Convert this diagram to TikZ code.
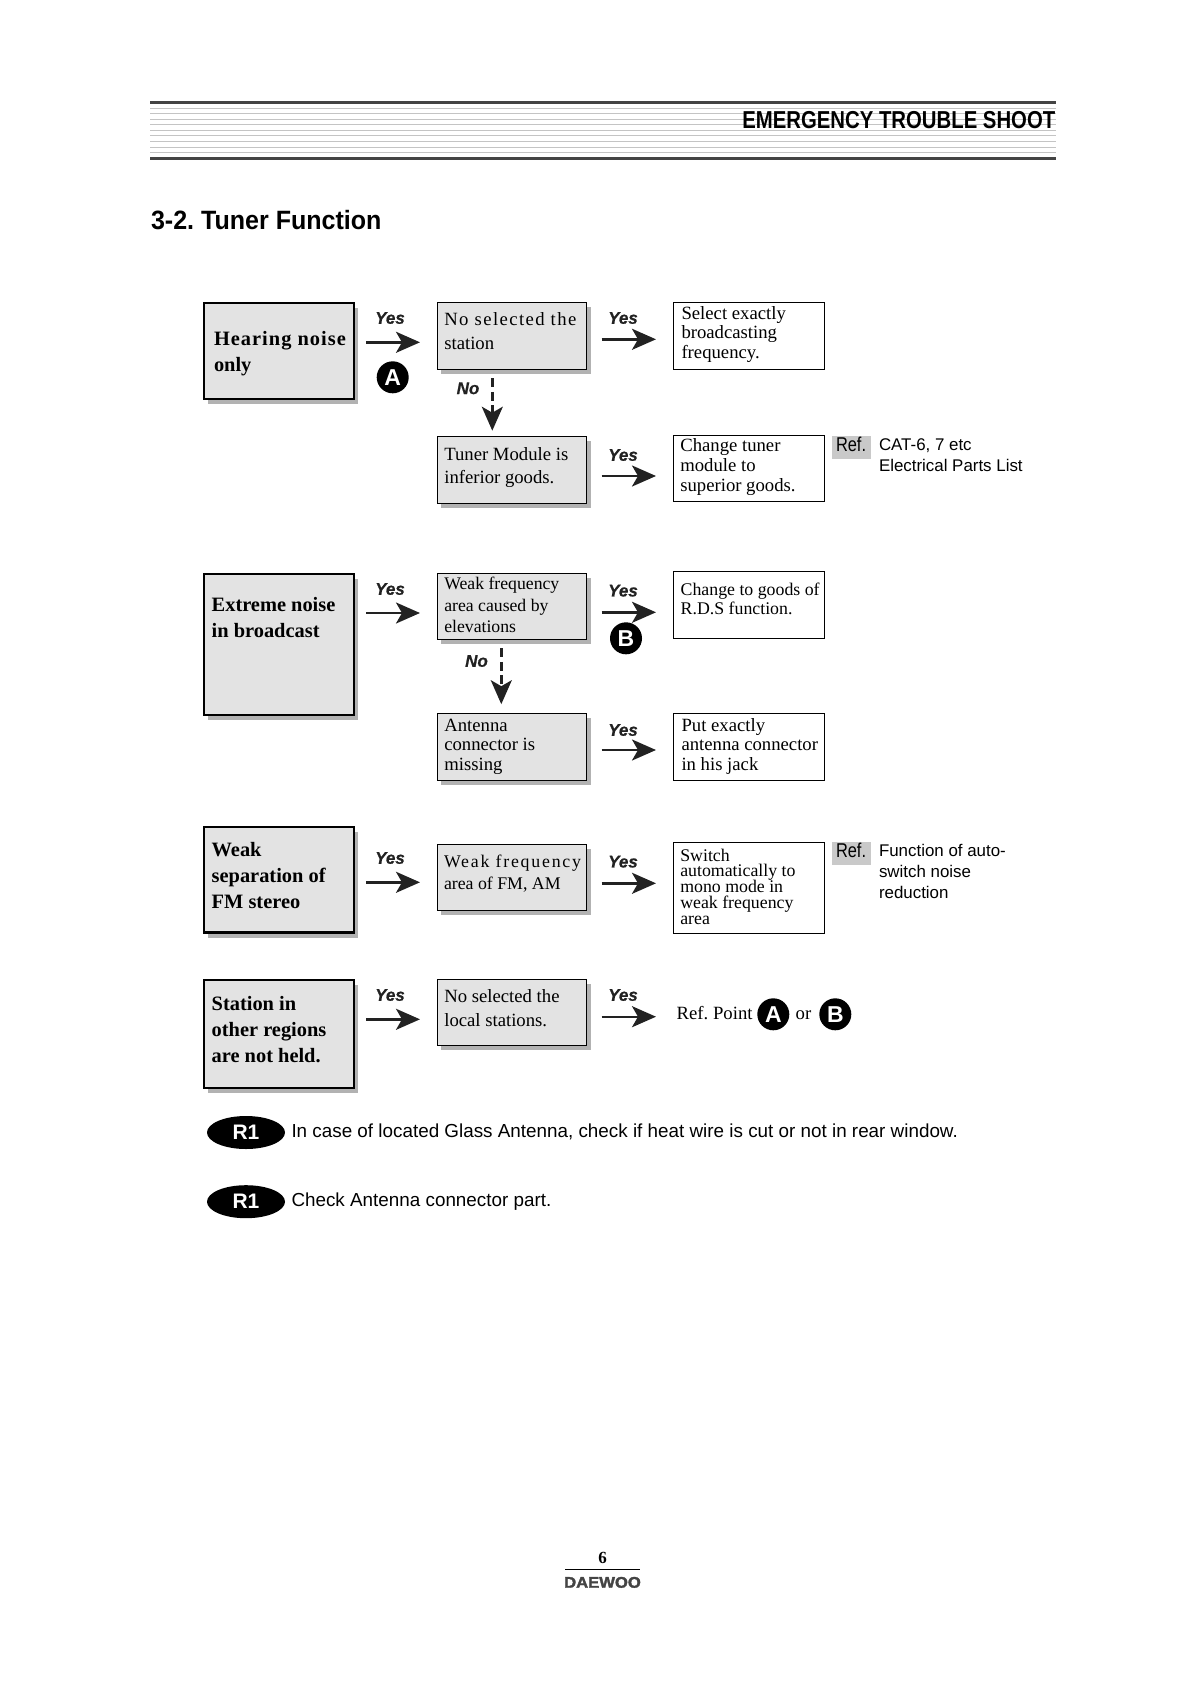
\documentclass[tikz,border=0pt]{standalone}
\usepackage{fontspec}
\setmainfont{Liberation Serif}
\setsansfont{Liberation Sans}
\usetikzlibrary{arrows.meta,shadows,shapes.geometric}
\AtBeginDocument{\frenchspacing}
\definecolor{boxfill}{HTML}{E3E3E3}
\definecolor{shade}{HTML}{B2B2B2}
\definecolor{inkdark}{HTML}{222222}
\definecolor{barcol}{HTML}{444444}
\definecolor{ruleline}{HTML}{C4C4C4}
\newcommand\tf[2]{\fontsize{#1}{#2}\selectfont}
\newcommand\ls[2]{{\addfontfeature{LetterSpace=#1}#2}}
\newcommand\bxnode[9]{\node[#1,minimum width=#5pt,minimum height=#6pt] (#2) at (#3,#4) {\begin{minipage}[t][#6pt][t]{#5pt}\raggedright\lineskiplimit=-100pt \leftskip=#7pt \rightskip=-40pt plus 1fil \rule{0pt}{#8pt}#9\end{minipage}};}
\newcommand\harrow[4]{\coordinate (ylev) at (0,#4); \draw[#1] (#2.east |- ylev) -- (#3.west |- ylev);}
\newcommand\varrow[4]{\coordinate (xlev) at (#4,0); \draw[#1] (#2.south -| xlev) -- (#3.north -| xlev);}
\tikzset{
  x=1pt,y=-1pt,
  basenode/.style={anchor=north west,inner sep=0pt,outer sep=0pt},
  problem/.style={basenode,draw=black,line width=2.4pt,fill=boxfill,drop shadow={shadow xshift=4pt,shadow yshift=-5pt,fill=shade,opacity=1}},
  cause/.style={basenode,draw=black,line width=1pt,fill=boxfill,drop shadow={shadow xshift=4pt,shadow yshift=-4.5pt,fill=shade,opacity=1}},
  remedy/.style={basenode,draw=black,line width=1pt,fill=white},
  refbox/.style={basenode,fill=shade!70!white},
  plaintext/.style={basenode},
  baselabel/.style={anchor=base west,inner sep=0pt,outer sep=0pt},
  yeslabel/.style={inner sep=0pt,font=\sffamily\bfseries\itshape\tf{17}{18}\addfontfeature{FakeBold=0.6},text=inkdark},
  badge/.style={circle,fill=black,text=white,minimum size=32pt,inner sep=0pt,font=\sffamily\bfseries\tf{23}{24}},
  pill/.style={ellipse,fill=black,text=white,minimum width=78pt,minimum height=33pt,inner sep=0pt,font=\sffamily\bfseries\tf{21}{22}},
  flow/.style={inkdark,line width=2.4pt,-{Stealth[length=24pt,width=21pt,inset=6pt]}},
  flowA/.style={flow,shorten <=12pt,shorten >=17pt},
  flowB/.style={flow,shorten <=15pt,shorten >=17.5pt},
  noflow/.style={flow,dash pattern=on 9pt off 4.5pt}
}
\begin{document}
\begin{tikzpicture}
\useasboundingbox (0,0) rectangle (1191,1684);
% header
\foreach \yy in {108,113.7,119.3,124.7,130.3,135.3,141.3,147.3,152.3}
  \draw[ruleline,line width=1pt] (150,\yy) -- (1056,\yy);
\draw[barcol,line width=3pt] (150,102.5) -- (1056,102.5);
\draw[barcol,line width=3pt] (150,158.5) -- (1056,158.5);
\node[anchor=base east,inner sep=0pt] (head) at (1055.5,128.3) {\sffamily\bfseries\tf{24.5}{26}\scalebox{.83}[1]{EMERGENCY TROUBLE SHOOT}};
\node[baselabel] (title) at (151,229) {\sffamily\bfseries\tf{26.5}{28}\scalebox{.945}[1]{3-2. Tuner Function}};
% row 1
\bxnode{problem}{p1}{204}{303}{150}{96}{10}{42}{\tf{20.4}{26}\bfseries\ls{5}{Hearing noise}\\only}
\bxnode{cause}{c1}{437}{302.5}{149.5}{66.5}{7.3}{23.2}{\tf{18.7}{23.6}\ls{7.5}{No selected the}\\station}
\bxnode{remedy}{r1}{673.5}{302.5}{150.5}{66.5}{8}{16.6}{\tf{18.7}{19.7}Select exactly\\broadcasting\\frequency.}
\bxnode{cause}{c2}{437}{436}{149.5}{67}{7.3}{24}{\tf{18.7}{23.3}Tuner Module is\\inferior goods.}
\bxnode{remedy}{r2}{673.5}{435.5}{150.5}{66}{6.8}{15.8}{\tf{18.7}{20}Change tuner\\module to\\superior goods.}
\harrow{flowA}{p1}{c1}{342.3}
\harrow{flowB}{c1}{r1}{339.3}
\harrow{flowB}{c2}{r2}{476}
\varrow{noflow,shorten <=9.3pt,shorten >=5.3pt}{c1}{c2}{492.3}
\node[yeslabel] (y1) at (390,318) {Yes};
\node[yeslabel] (y2) at (623,318) {Yes};
\node[yeslabel] (n1) at (468,388.3) {No};
\node[yeslabel] (y3) at (623,455) {Yes};
\node[badge] (ba) at (392.7,377.3) {A};
\bxnode{refbox}{rf1}{832}{436}{38.7}{22.7}{4}{15.7}{\sffamily\tf{20}{22}\scalebox{.82}[1]{Ref.}}
\bxnode{plaintext}{n2}{879}{436}{170}{50}{0}{14}{\sffamily\tf{16.9}{21.2}CAT-6, 7 etc\\Electrical Parts List}
% row 2
\bxnode{problem}{p2}{204}{573.8}{150}{141}{7.7}{37.2}{\tf{20.4}{26}\bfseries Extreme noise\\in broadcast}
\bxnode{cause}{c3}{437}{573.5}{149.5}{65.8}{7.3}{15.8}{\tf{17.7}{21.7}Weak frequency\\area caused by\\elevations}
\bxnode{remedy}{r3}{673.5}{571.5}{150.5}{66.8}{7.2}{23.5}{\tf{17.8}{19}Change to goods of\\R.D.S function.}
\bxnode{cause}{c4}{437}{713.5}{149.5}{66.8}{7.3}{17.5}{\tf{18.7}{19.8}Antenna\\connector is\\missing}
\bxnode{remedy}{r4}{673.5}{713.5}{150.5}{66.8}{8}{17.5}{\tf{18.7}{19.8}Put exactly\\antenna connector\\in his jack}
\harrow{flowA}{p2}{c3}{613}
\harrow{flowB}{c3}{r3}{612.3}
\harrow{flowB}{c4}{r4}{750}
\varrow{noflow,shorten <=9pt,shorten >=9.3pt}{c3}{c4}{501.3}
\node[yeslabel] (y4) at (390,589) {Yes};
\node[yeslabel] (y5) at (623,590.7) {Yes};
\node[yeslabel] (n3) at (476.5,661) {No};
\node[yeslabel] (y6) at (623,730) {Yes};
\node[badge] (bb) at (626,638.3) {B};
% row 3
\bxnode{problem}{p3}{204}{827}{150}{105.5}{7.7}{29.7}{\tf{20.4}{26}\bfseries Weak\\separation of\\FM stereo}
\bxnode{cause}{c5}{437}{844.5}{149.5}{65.8}{7}{22.8}{\tf{17.8}{22}\ls{10}{Weak frequency}\\area of FM, AM}
\bxnode{remedy}{r5}{673.5}{842.5}{150.5}{90.8}{6.8}{18.5}{\tf{17.8}{15.8}Switch\\automatically to\\mono mode in\\weak frequency\\area}
\harrow{flowA}{p3}{c5}{882.3}
\harrow{flowB}{c5}{r5}{883.3}
\node[yeslabel] (y7) at (390,858) {Yes};
\node[yeslabel] (y8) at (623,861.7) {Yes};
\bxnode{refbox}{rf2}{832}{842}{38.7}{22.7}{4}{15.7}{\sffamily\tf{20}{22}\scalebox{.82}[1]{Ref.}}
\bxnode{plaintext}{n4}{879}{842}{170}{70}{0}{14}{\sffamily\tf{16.9}{21.3}Function of auto-\\switch noise\\reduction}
% row 4
\bxnode{problem}{p4}{204}{979.8}{150}{108}{7.7}{30.2}{\tf{20.4}{26}\bfseries Station in\\other regions\\are not held.}
\bxnode{cause}{c6}{437}{979.5}{149.5}{66}{7.3}{22.5}{\tf{18.7}{24}No selected the\\local stations.}
\node[baselabel] (rp) at (676.7,1019) {\tf{18.7}{20}Ref. Point};
\node[baselabel] (orw) at (795.7,1019) {\tf{18.7}{20}or};
\node[badge] (ba2) at (773.3,1014.3) {A};
\node[badge] (bb2) at (835.3,1014.3) {B};
\harrow{flowA}{p4}{c6}{1019.3}
\coordinate (ylev) at (0,1016.7);
\draw[flow,shorten <=15pt] (c6.east |- ylev) -- (656,1016.7);
\node[yeslabel] (y9) at (390,995) {Yes};
\node[yeslabel] (y10) at (623,995) {Yes};
% notes
\node[pill] (e1) at (246,1132.5) {R1};
\node[baselabel] (t1) at (291.5,1137.3) {\sffamily\tf{18.85}{20}In case of located Glass Antenna, check if heat wire is cut or not in rear window.};
\node[pill] (e2) at (246,1201.7) {R1};
\node[baselabel] (t2) at (291.5,1206) {\sffamily\tf{18.85}{20}Check Antenna connector part.};
% footer
\node[anchor=base,inner sep=0pt] (pg) at (602.7,1563) {\bfseries\tf{17}{18}6};
\draw[black,line width=1pt] (565,1569.3) -- (640,1569.3);
\node[anchor=base,inner sep=0pt,text=barcol] (logo) at (602.5,1587.7) {\sffamily\bfseries\tf{15.4}{16}\addfontfeature{FakeBold=2}\scalebox{1.08}[1]{DAEWOO}};
\end{tikzpicture}
\end{document}
